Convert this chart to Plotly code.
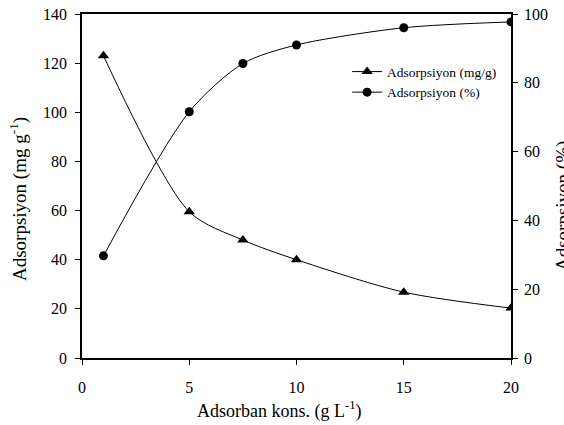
import plotly.graph_objects as go

# Adsorbent dose (g/L)
dose = [1, 5, 7.5, 10, 15, 20]
# Adsorption capacity (mg/g)
capacity = [123.0, 59.5, 48.0, 40.0, 26.8, 20.3]
# Removal efficiency (%)
removal = [29.7, 71.6, 85.6, 91.0, 96.0, 97.7]

FONT = "Liberation Serif"
W, H = 564, 425
L, R, T, B = 82, 53, 14, 67

fig = go.Figure()
fig.add_trace(go.Scatter(
    x=dose, y=capacity, name="Adsorpsiyon (mg/g)", mode="lines+markers",
    line=dict(color="black", width=1, shape="spline", smoothing=0.8),
    marker=dict(symbol="triangle-up", size=10, color="black"),
    yaxis="y"))
fig.add_trace(go.Scatter(
    x=dose, y=removal, name="Adsorpsiyon (%)", mode="lines+markers",
    line=dict(color="black", width=1, shape="spline", smoothing=0.8),
    marker=dict(symbol="circle", size=9, color="black"),
    yaxis="y2"))

axis_common = dict(showgrid=False, zeroline=False, showline=True, linecolor="black",
                   linewidth=1.5, ticks="outside", ticklen=5, tickcolor="black",
                   automargin=False,
                   tickfont=dict(family=FONT, size=16, color="black"))

fig.update_layout(
    template="none",
    width=W, height=H,
    margin=dict(l=L, r=R, t=T, b=B),
    paper_bgcolor="white", plot_bgcolor="white",
    font=dict(family=FONT, color="black"),
    showlegend=True,
    legend=dict(x=0.618, y=0.877, xanchor="left", yanchor="top",
                bgcolor="rgba(0,0,0,0)", font=dict(family=FONT, size=13.5),
                itemwidth=30, tracegroupgap=0),
    xaxis=dict(range=[0, 20], dtick=5, mirror=True, ticklabelstandoff=9, **axis_common),
    yaxis=dict(range=[0, 140], dtick=20, side="left", ticklabelstandoff=5, **axis_common),
    yaxis2=dict(range=[0, 100], dtick=20, side="right", overlaying="y",
                ticklabelstandoff=3, **axis_common),
)

pw, ph = W - L - R, H - T - B

def px(x):
    return (x - L) / pw

def py(y):
    return (H - B - y) / ph

# Axis titles placed in pixel terms relative to the plotting area
titles = [
    ("Adsorban kons. (g L<sup>-1</sup>)", 279, 410, 0, 18),
    ("Adsorpsiyon (mg g<sup>-1</sup>)", 18, 199, -90, 19),
    ("Adsorpsiyon (%)", 563, 206, -90, 19),
]
for text, tx, ty, ang, size in titles:
    fig.add_annotation(text=text, xref="paper", yref="paper",
                       x=px(tx), y=py(ty), xanchor="center", yanchor="middle",
                       textangle=ang, showarrow=False,
                       font=dict(family=FONT, size=size))

fig.write_html("out.html")
